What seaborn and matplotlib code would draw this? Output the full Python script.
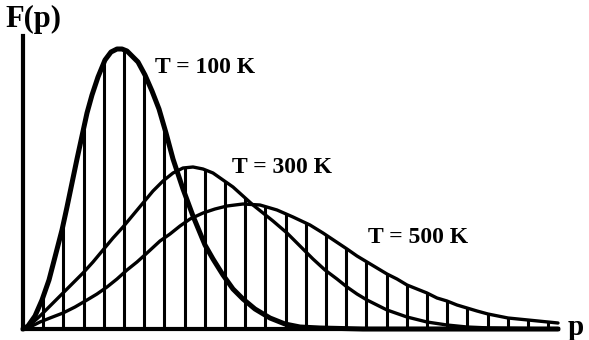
import numpy as np
import pandas as pd
import matplotlib
matplotlib.use("Agg")
import matplotlib.pyplot as plt
import seaborn as sns

# Values (p and F in arbitrary units)
p_100 = [0, 5, 12, 19, 26, 32, 39, 44, 49, 54, 59, 64, 69, 75, 82, 88, 94, 99,
         104, 110, 115, 122, 129, 136, 143, 150, 160, 170, 182, 190, 200, 210,
         220, 232, 247, 262, 277, 297, 340, 535]
F_100 = [0, 3, 13, 29, 49, 72, 99, 122, 146, 170, 193, 216, 234, 252, 269, 277,
         280, 280, 278, 272, 267, 254, 238, 220, 196, 170, 140, 113, 84, 70, 54,
         40, 30, 20, 11, 5, 2, 1, 0, 0]

p_300 = [0, 7, 17, 27, 40, 50, 60, 70, 80, 90, 100, 110, 120, 130, 140, 150, 160,
         170, 180, 190, 200, 210, 220, 230, 240, 250, 264, 277, 290, 302, 314,
         324, 334, 344, 364, 384, 404, 424, 444, 467, 535]
F_300 = [0, 4, 13, 23, 36, 46, 56, 67, 79, 91, 102, 114, 126, 138, 148, 156, 161,
         162, 160, 156, 149, 142, 133, 124, 116, 108, 96, 83, 70, 59, 50, 42, 35,
         29, 19, 12, 7, 4, 2, 1, 0]

p_500 = [0, 7, 17, 27, 40, 52, 64, 74, 84, 94, 104, 114, 124, 137, 147, 157, 167,
         180, 192, 204, 220, 237, 254, 270, 287, 300, 312, 324, 334, 344, 354,
         364, 374, 384, 394, 404, 414, 424, 434, 444, 454, 465, 475, 485, 495,
         505, 515, 525, 535]
F_500 = [0, 2, 7, 11, 16, 22, 29, 35, 42, 50, 59, 67, 76, 88, 95, 103, 110, 116,
         120, 123, 125, 124, 119, 112, 104, 96, 88, 80, 73, 67, 61, 55, 50, 44,
         40, 36, 31, 28, 24, 21, 18, 15, 13, 11, 10, 9, 8, 7, 6]

labels = ["T = 100 K", "T = 300 K", "T = 500 K"]
n_hatch = 26
hatch_step = 20.2

curves = pd.concat([
    pd.DataFrame({"p": p_100, "F": F_100, "T": labels[0]}),
    pd.DataFrame({"p": p_300, "F": F_300, "T": labels[1]}),
    pd.DataFrame({"p": p_500, "F": F_500, "T": labels[2]}),
], ignore_index=True)

sns.set_style("white")
plt.rcParams["font.family"] = ["Liberation Serif", "DejaVu Serif"]
plt.rcParams["text.color"] = "black"

fig = plt.figure(figsize=(5.89, 3.40), dpi=100)
ax = fig.add_axes([0, 0, 1, 1])

# vertical hatching up to the upper envelope of the three curves
hatch_p = hatch_step * np.arange(1, n_hatch + 1)
tops = np.maximum.reduce([np.interp(hatch_p, p_100, F_100),
                          np.interp(hatch_p, p_300, F_300),
                          np.interp(hatch_p, p_500, F_500)])
ax.vlines(hatch_p, 0, tops, color="black", lw=2.2)

widths = {labels[0]: 3.6, labels[1]: 2.4, labels[2]: 2.4}
for t, sub in curves.groupby("T"):
    sns.lineplot(data=sub, x="p", y="F", color="black", lw=widths[t],
                 estimator=None, sort=False, ax=ax, legend=False,
                 solid_joinstyle="round", solid_capstyle="round")

ax.set_xlim(-23, 566)
ax.set_ylim(-11, 329)
for side in ["top", "right"]:
    ax.spines[side].set_visible(False)
ax.spines["left"].set_position(("data", 0))
ax.spines["bottom"].set_position(("data", 0))
ax.spines["left"].set_bounds(0, 293)
ax.spines["bottom"].set_bounds(0, 535)
for side in ["left", "bottom"]:
    ax.spines[side].set_linewidth(3)
    ax.spines[side].set_color("black")
ax.set_xticks([])
ax.set_yticks([])
ax.set_xlabel("")
ax.set_ylabel("")
ax.patch.set_alpha(0)

ax.text(-18, 302, "F(p)", fontsize=22, fontweight="bold", va="baseline",
        ha="left", color="black")
ax.text(545, -6, "p", fontsize=21, fontweight="bold", va="baseline",
        ha="left", color="black")
ax.text(132, 256, labels[0], fontsize=17, fontweight="bold", va="baseline",
        color="black")
ax.text(209, 156, labels[1], fontsize=17, fontweight="bold", va="baseline",
        color="black")
ax.text(345, 86, labels[2], fontsize=17, fontweight="bold", va="baseline",
        color="black")

fig.savefig("out.png", dpi=100)
